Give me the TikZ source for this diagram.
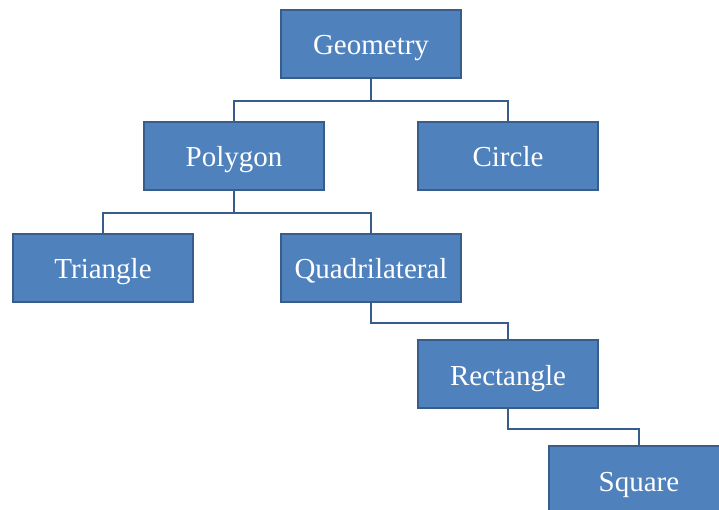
\documentclass[tikz,border=0pt]{standalone}
\usepackage{fontspec}
\setmainfont{Liberation Serif}
\definecolor{boxfill}{HTML}{4F81BD}
\definecolor{boxline}{HTML}{385D8A}
\begin{document}
\begin{tikzpicture}[x=1pt,y=-1pt,
  cbox/.style={draw=boxline,line width=1.8pt,fill=boxfill,minimum width=180pt,minimum height=68pt,inner sep=0pt,text height=22pt,text depth=0pt,text=white,font=\fontsize{29}{31}\selectfont,anchor=center},
  conn/.style={draw=boxline,line width=1.8pt}]
\useasboundingbox (0,0) rectangle (719,510);
\clip (0,0) rectangle (719,510);
\node[cbox] (geo) at (371,44) {Geometry};
\node[cbox] (pol) at (234,156) {Polygon};
\node[cbox] (cir) at (508,156) {Circle};
\node[cbox] (tri) at (103,268) {Triangle};
\node[cbox] (qua) at (371,268) {Quadrilateral};
\node[cbox] (rec) at (508,374) {Rectangle};
\node[cbox] (squ) at (639,480) {Square};
\draw[conn] (geo.south) -- ++(0,22) -| (pol.north);
\draw[conn] (geo.south) -- ++(0,22) -| (cir.north);
\draw[conn] (pol.south) -- ++(0,22) -| (tri.north);
\draw[conn] (pol.south) -- ++(0,22) -| (qua.north);
\draw[conn] (qua.south) -- ++(0,20) -| (rec.north);
\draw[conn] (rec.south) -- ++(0,20) -| (squ.north);
\end{tikzpicture}
\end{document}
